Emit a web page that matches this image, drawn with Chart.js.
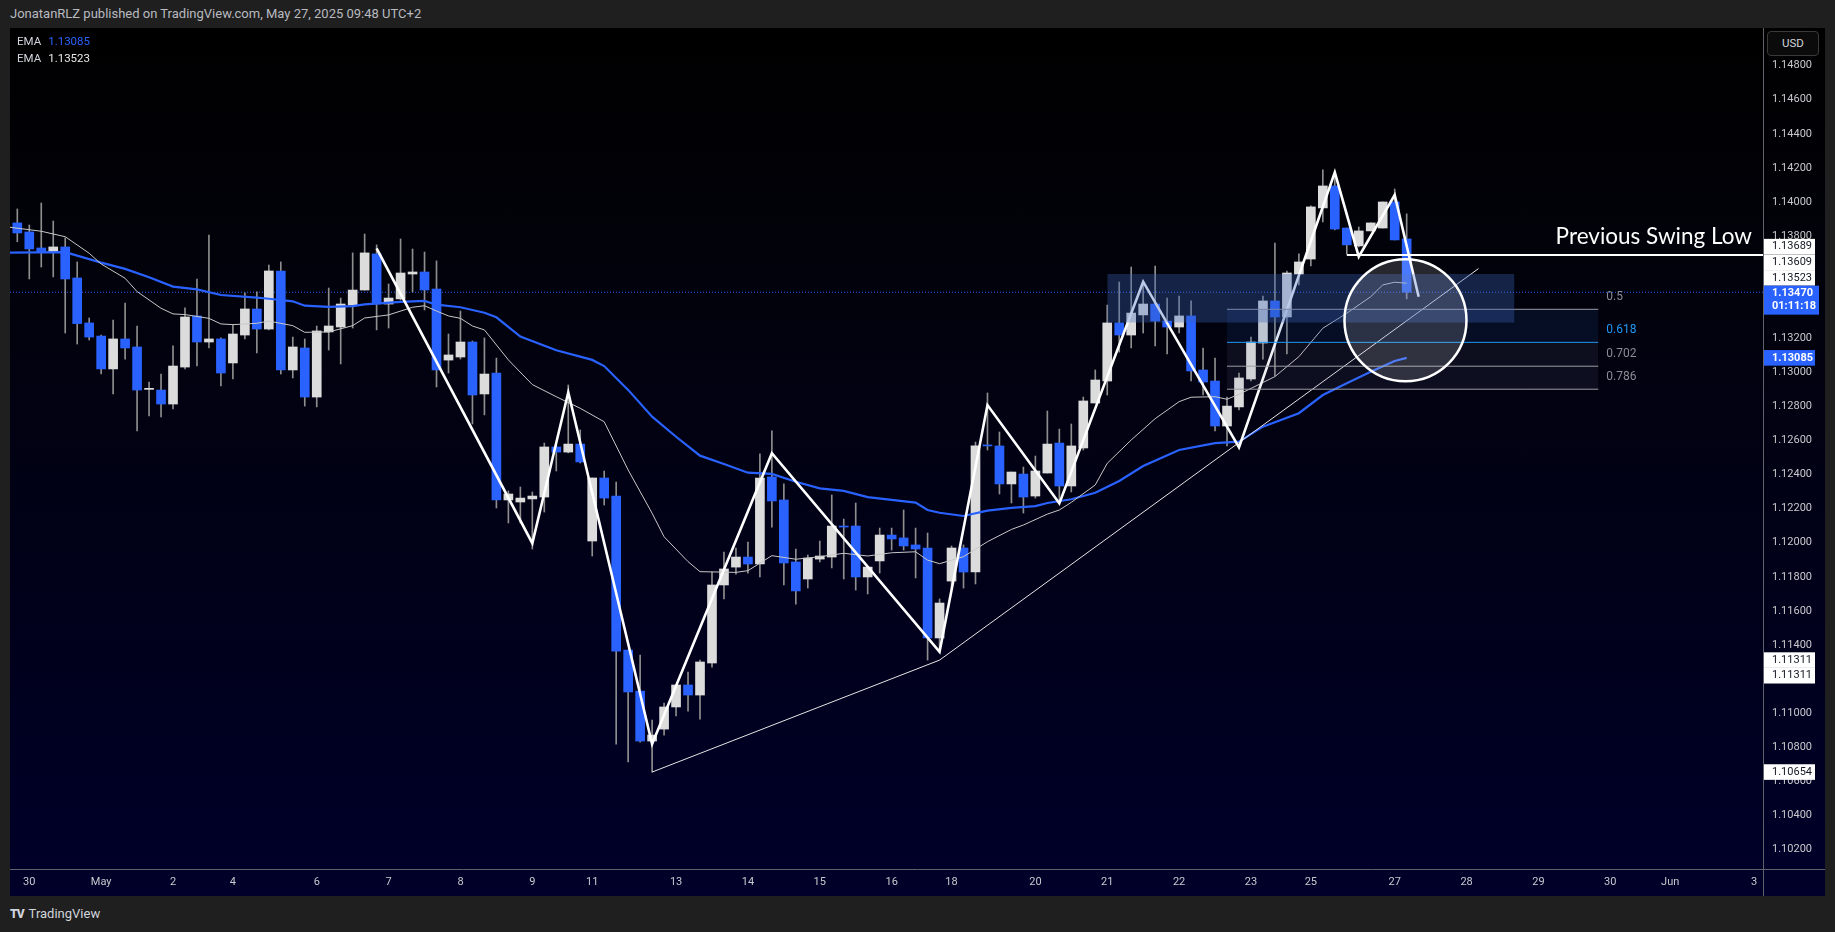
<!DOCTYPE html>
<html><head><meta charset="utf-8">
<script src="https://cdn.jsdelivr.net/npm/chart.js@4.4.1/dist/chart.umd.min.js"></script>
<style>
html,body{margin:0;padding:0;background:#1f1f1f;width:1835px;height:932px;overflow:hidden;font-family:Roboto,"Noto Sans",sans-serif;}
#hdr{position:absolute;left:10px;top:6px;font-size:13px;color:#b8bac0;white-space:nowrap;}
#panel{position:absolute;left:10px;top:28px;width:1815px;height:868px;background:linear-gradient(to bottom,#000000 0%,#02020c 30%,#00001e 75%,#00002a 100%);}
#cv{position:absolute;left:0;top:0;z-index:1;}
#legend{position:absolute;left:17px;top:33px;font-size:11.5px;color:#d1d4dc;line-height:17px;white-space:nowrap;z-index:2;}
#legend span.v{margin-left:7px;}
#usd{position:absolute;left:1767px;top:31px;width:52px;height:25px;border:1px solid #3a3a3a;border-radius:4px;background:#0b0b0b;color:#d1d4dc;font-size:11.5px;line-height:23px;text-align:center;box-sizing:border-box;z-index:2;}
#foot{position:absolute;left:10px;top:906px;font-size:13px;color:#d1d4dc;white-space:nowrap;}
#foot b{font-weight:900;letter-spacing:-1px;margin-right:5px;font-size:12px;}
</style></head>
<body>
<div id="hdr">JonatanRLZ published on TradingView.com, May 27, 2025 09:48 UTC+2</div>
<div id="panel"></div>
<div id="legend"></div>
<div id="usd">USD</div>
<div id="foot"><b>TV</b>TradingView</div>
<canvas id="cv" width="1835" height="932"></canvas>
<script>
// ---------- DATA (EUR/USD 4h) ----------
const opens = [1.13877,1.13824,1.13730,1.13706,1.13736,1.13554,1.13290,1.13213,1.13020,1.13196,
1.13149,1.12900,1.12896,1.12814,1.13031,1.13331,1.13178,1.13196,1.13055,1.13219,
1.13372,1.13254,1.13595,1.13014,1.13143,1.12855,1.13237,1.13266,1.13395,1.13483,
1.13695,1.13401,1.13431,1.13577,1.13589,1.13489,1.13072,1.13090,1.13178,1.12873,
1.12996,1.12251,1.12239,1.12257,1.12268,1.12562,1.12532,1.12579,1.12010,1.12380,
1.12274,1.11370,1.11129,1.10836,1.10906,1.11036,1.11165,1.11106,1.11294,1.11752,
1.11857,1.11916,1.11875,1.12386,1.12251,1.11887,1.11787,1.11904,1.11916,1.12098,
1.12098,1.11799,1.11893,1.12045,1.12028,1.11987,1.11969,1.11441,1.11775,1.11969,
1.11828,1.12574,1.12568,1.12345,1.12403,1.12274,1.12409,1.12585,1.12333,1.12556,
1.12820,1.12949,1.13290,1.13219,1.13337,1.13401,1.13301,1.13266,1.13331,1.13014,
1.12949,1.12685,1.12797,1.12961,1.13172,1.13419,1.13325,1.13577,1.13665,1.13965,
1.14094,1.13847,1.13742,1.13830,1.13847,1.14000,1.13783];
const highs = [1.13959,1.13865,1.13994,1.13888,1.13789,1.13648,1.13319,1.13219,1.13307,1.13407,
1.13272,1.12943,1.12990,1.13155,1.13378,1.13548,1.13806,1.13202,1.13278,1.13466,
1.13472,1.13630,1.13648,1.13207,1.13196,1.13272,1.13495,1.13436,1.13701,1.13812,
1.13748,1.13519,1.13783,1.13724,1.13706,1.13654,1.13225,1.13360,1.13184,1.13202,
1.13084,1.12304,1.12327,1.12298,1.12585,1.12574,1.12926,1.12662,1.12380,1.12421,
1.12356,1.11370,1.11341,1.10959,1.11059,1.11165,1.11241,1.11311,1.11828,1.11945,
1.11969,1.12004,1.12521,1.12656,1.12345,1.11963,1.11928,1.12010,1.12280,1.12139,
1.12233,1.11857,1.12086,1.12086,1.12192,1.12086,1.12057,1.11670,1.11981,1.11987,
1.12591,1.12879,1.12650,1.12415,1.12444,1.12509,1.12773,1.12667,1.12697,1.12855,
1.13014,1.13395,1.13530,1.13618,1.13530,1.13624,1.13436,1.13448,1.13419,1.13143,
1.13084,1.12855,1.12996,1.13207,1.13448,1.13759,1.13595,1.13695,1.13977,1.14188,
1.14176,1.13847,1.13853,1.13877,1.14000,1.14076,1.13930];
const lows = [1.13767,1.13548,1.13618,1.13560,1.13231,1.13166,1.13190,1.12990,1.12873,1.13078,
1.12656,1.12744,1.12738,1.12785,1.13020,1.13037,1.13143,1.12920,1.12961,1.13196,
1.13114,1.13249,1.12990,1.12967,1.12802,1.12797,1.13131,1.13049,1.13260,1.13483,
1.13249,1.13260,1.13425,1.13472,1.13366,1.12914,1.12996,1.13078,1.12697,1.12750,
1.12204,1.12116,1.12116,1.11963,1.12180,1.12421,1.12527,1.12468,1.11922,1.12221,
1.10818,1.10713,1.10830,1.10654,1.10871,1.10983,1.11012,1.10965,1.11270,1.11670,
1.11816,1.11822,1.11799,1.12092,1.11752,1.11640,1.11734,1.11887,1.11852,1.11787,
1.11722,1.11699,1.11822,1.11957,1.11957,1.11793,1.11311,1.11358,1.11728,1.11734,
1.11758,1.12544,1.12286,1.12233,1.12174,1.12262,1.12409,1.12251,1.12298,1.12544,
1.12820,1.12867,1.13119,1.13143,1.13231,1.13155,1.13108,1.13231,1.12949,1.12867,
1.12656,1.12568,1.12779,1.12949,1.13078,1.12979,1.13108,1.13513,1.13624,1.13883,
1.13836,1.13695,1.13736,1.13830,1.13847,1.13777,1.13431];
const closes = [1.13818,1.13724,1.13705,1.13736,1.13548,1.13286,1.13207,1.13020,1.13196,1.13143,
1.12896,1.12906,1.12814,1.13037,1.13325,1.13178,1.13196,1.12996,1.13225,1.13372,
1.13254,1.13595,1.13014,1.13149,1.12855,1.13243,1.13272,1.13401,1.13483,1.13701,
1.13401,1.13436,1.13583,1.13589,1.13483,1.13014,1.13102,1.13178,1.12867,1.12990,
1.12251,1.12286,1.12262,1.12274,1.12562,1.12532,1.12579,1.12474,1.12380,1.12262,
1.11364,1.11124,1.10836,1.10871,1.11036,1.11165,1.11106,1.11300,1.11752,1.11846,
1.11916,1.11875,1.12380,1.12245,1.11881,1.11717,1.11910,1.11922,1.12098,1.12092,
1.11799,1.11857,1.12045,1.12022,1.11981,1.11963,1.11441,1.11646,1.11969,1.11828,
1.12568,1.12568,1.12345,1.12415,1.12268,1.12421,1.12579,1.12333,1.12568,1.12832,
1.12955,1.13290,1.13219,1.13348,1.13401,1.13301,1.13266,1.13331,1.13008,1.12943,
1.12685,1.12802,1.12967,1.13178,1.13419,1.13325,1.13583,1.13648,1.13971,1.14094,
1.13841,1.13748,1.13830,1.13877,1.14000,1.13777,1.13470];

// time axis: candle index of each date label
const timeTickIdx = [1,7,13,18,25,31,37,43,48,55,61,67,73,78,85,91,97,103,108,115,121,127,133,138,145];
const timeTickLabels = ['30','May','2','4','6','7','8','9','11','13','14','15','16','18','20','21','22','23','25','27','28','29','30','Jun','3'];
const priceTicks = [1.102,1.104,1.106,1.108,1.110,1.112,1.114,1.116,1.118,1.120,1.122,1.124,1.126,1.128,1.130,1.132,1.134,1.136,1.138,1.140,1.142,1.144,1.146,1.148];
const hiddenPriceTicks = [1.112,1.134,1.136];

// EMA readings (fast, white) and (slow, blue)
const emaFastIdx = [-1,2,4,6,7,9,10,12,13,14,16,17,18,20,21,23,24,26,28,29,31,33,34,35,36,37,38,39,41,43,45,47,49,51,53,54,56,57,60,61,63,65,67,69,71,73,75,76,77,79,81,83,84,86,87,88,90,91,93,95,97,98,100,101,102,105,107,109,111,113,114,115,116];
const emaFastVal = [1.13855,1.13828,1.13796,1.13699,1.13636,1.13552,1.13474,1.13376,1.13343,1.13339,1.13317,1.13284,1.13280,1.13288,1.13301,1.13274,1.13235,1.13237,1.13274,1.13319,1.13337,1.13382,1.13391,1.13360,1.13331,1.13317,1.13272,1.13249,1.13073,1.12928,1.12857,1.12789,1.12710,1.12427,1.12173,1.12035,1.11889,1.11830,1.11826,1.11836,1.11924,1.11903,1.11918,1.11938,1.11922,1.11941,1.11947,1.11898,1.11877,1.11918,1.12006,1.12078,1.12104,1.12168,1.12192,1.12237,1.12339,1.12466,1.12603,1.12728,1.12828,1.12854,1.12857,1.12842,1.12871,1.12975,1.13092,1.13259,1.13347,1.13444,1.13513,1.13529,1.13523];
const emaSlowIdx = [-1,4,7,9,11,13,15,17,20,21,23,24,26,28,29,32,34,35,37,39,40,42,45,48,49,51,53,55,57,59,61,63,65,67,69,71,73,75,76,77,79,81,83,85,86,88,90,92,94,97,100,102,104,107,109,111,113,115,116];
const emaSlowVal = [1.13702,1.13705,1.13644,1.13607,1.13558,1.13503,1.13487,1.13454,1.13438,1.13432,1.13417,1.13391,1.13384,1.13389,1.13399,1.13413,1.13419,1.13397,1.13382,1.13350,1.13323,1.13210,1.13130,1.13073,1.13037,1.12897,1.12740,1.12622,1.12511,1.12462,1.12411,1.12404,1.12358,1.12319,1.12304,1.12268,1.12251,1.12235,1.12192,1.12176,1.12157,1.12188,1.12205,1.12215,1.12233,1.12255,1.12293,1.12362,1.12450,1.12544,1.12584,1.12593,1.12681,1.12760,1.12867,1.12936,1.13004,1.13067,1.13085];

// drawings
const zigzagIdx = [30,43,46,53,63,77,81,87,94,102,110,112,115,117];
const zigzagVal = [1.13728,1.11997,1.12883,1.10818,1.12525,1.11360,1.12808,1.12231,1.13532,1.12560,1.14174,1.13679,1.14041,1.13444];
const trend1Idx = [53,77], trend1Val = [1.10654,1.11311];
const trend2Idx = [77,122], trend2Val = [1.11311,1.13609];
const swingLowIdx = 111, swingLowVal = 1.13689;
const zoneIdx = [91,125], zoneVal = [1.13577,1.13292];
const fibIdx = [101,132];
const fibRatios = [0.5,0.618,0.702,0.786];
const fibVals = [1.13370,1.13176,1.13036,1.12901];
const circleIdx = 115.9, circleVal = 1.13306;
const lastPrice = closes[closes.length-1];
const xMin = -0.61, xMax = 145.75, yMin = 1.10085, yMax = 1.15021;

// ---------- build ----------
const WHITE = '#dcdcdc', BLUE = '#2962ff';
document.getElementById('legend').innerHTML =
  'EMA<span class="v" style="color:#2962ff">' + emaSlowVal[emaSlowVal.length-1].toFixed(5) + '</span><br>' +
  'EMA<span class="v" style="color:#e8e8e8">' + emaFastVal[emaFastVal.length-1].toFixed(5) + '</span>';

const bodies = opens.map((o,i)=>({x:i, y:[o, closes[i]]}));
const wicks = opens.map((o,i)=>({x:i, y:[lows[i], highs[i]]}));
const pts = (xs, ys) => xs.map((v,k)=>({x:v, y:ys[k]}));
const lineDs = (data, color, width, order, extra) => Object.assign({type:'line', data, borderColor:color, borderWidth:width, pointRadius:0, tension:0, fill:false, order}, extra||{});

const datasets = [
  lineDs([{x:xMin,y:lastPrice},{x:xMax,y:lastPrice}], BLUE, 1, 20, {borderDash:[1,2]}),
  {type:'bar', data:wicks, grouped:false, barThickness:1, backgroundColor:'#8e8e8e', borderWidth:0, order:15},
  {type:'bar', data:bodies, grouped:false, barThickness:9, minBarLength:1, borderWidth:0, order:14,
   backgroundColor: c => { const i=c.dataIndex; return closes[i] >= opens[i] ? WHITE : BLUE; }},
  lineDs(pts(emaSlowIdx, emaSlowVal), BLUE, 2.2, 13),
  lineDs(pts(emaFastIdx, emaFastVal), '#c8c8c8', 1, 12),
  lineDs(pts(trend1Idx, trend1Val), '#e6e6e6', 1, 11),
  lineDs(pts(trend2Idx, trend2Val), '#e6e6e6', 1, 11),
  lineDs(pts(zigzagIdx, zigzagVal), '#ffffff', 2.6, 10),
];
// fib bands
const bandColors = ['rgba(30,80,160,0.16)','rgba(120,130,170,0.10)','rgba(120,130,170,0.10)'];
for (let k=0;k<3;k++) datasets.push(lineDs(pts(fibIdx,[fibVals[k],fibVals[k]]), 'rgba(0,0,0,0)', 0, 8, {fill:{value:fibVals[k+1]}, backgroundColor:bandColors[k]}));
const fibLineColors = ['#9a9ca3','#2196f3','#9a9ca3','#9a9ca3'];
for (let k=0;k<4;k++) datasets.push(lineDs(pts(fibIdx,[fibVals[k],fibVals[k]]), fibLineColors[k], 1, 7));
// zone rectangle
datasets.push(lineDs(pts(zoneIdx,[zoneVal[0],zoneVal[0]]), 'rgba(0,0,0,0)', 0, 5, {fill:{value:zoneVal[1]}, backgroundColor:'rgba(60,100,185,0.34)'}));
// swing low line
datasets.push(lineDs([{x:swingLowIdx,y:swingLowVal},{x:xMax,y:swingLowVal}], '#ffffff', 2, 3));
// circle
datasets.push({type:'scatter', data:[{x:circleIdx,y:circleVal}], pointRadius:61, pointBackgroundColor:'rgba(255,255,255,0.15)', pointBorderColor:'#ffffff', pointBorderWidth:2.5, order:1, clip:false});

const priceTags = [
  {v:1.13689, lines:['1.13689'], bg:'#ffffff', fg:'#131722'},
  {v:1.13609, lines:['1.13609'], bg:'#ffffff', fg:'#131722'},
  {v:1.13523, lines:['1.13523'], bg:'#ffffff', fg:'#131722'},
  {v:lastPrice, lines:['1.13470','01:11:18'], bg:'#2962ff', fg:'#ffffff', anchor:true},
  {v:1.13085, lines:['1.13085'], bg:'#2962ff', fg:'#ffffff'},
  {v:1.11311, lines:['1.11311'], bg:'#ffffff', fg:'#131722'},
  {v:1.11311, lines:['1.11311'], bg:'#ffffff', fg:'#131722'},
  {v:1.10654, lines:['1.10654'], bg:'#ffffff', fg:'#131722'},
];

const overlay = {
  id:'overlay',
  afterDatasetsDraw(chart){
    const {ctx, scales:{x,y}, chartArea:a} = chart;
    ctx.save();
    ctx.font = '12px Roboto'; ctx.textBaseline='middle'; ctx.textAlign='left';
    fibRatios.forEach((r,k)=>{
      ctx.fillStyle = k===1 ? '#2196f3' : '#8a8d95';
      ctx.fillText(String(r), x.getPixelForValue(fibIdx[1]) + 8, y.getPixelForValue(fibVals[k]) - 12.5);
    });
    ctx.font = '22.5px Lato'; ctx.fillStyle='#ffffff'; ctx.textAlign='right'; ctx.textBaseline='alphabetic';
    ctx.fillText('Previous Swing Low', a.right - 11, y.getPixelForValue(swingLowVal) - 11);
    ctx.restore();
  },
  afterDraw(chart){
    const {ctx, scales:{y}, chartArea:a} = chart;
    ctx.save();
    ctx.strokeStyle = '#5f626b'; ctx.lineWidth = 1;
    ctx.beginPath(); ctx.moveTo(a.right+0.5, 28); ctx.lineTo(a.right+0.5, 896); ctx.stroke();
    ctx.beginPath(); ctx.moveTo(10, a.bottom+0.5); ctx.lineTo(1825, a.bottom+0.5); ctx.stroke();
    const H1 = 15.6, H2 = 29;
    const items = priceTags.map(t=>({...t, h: t.lines.length===2?H2:H1, c:y.getPixelForValue(t.v)}));
    const ai = items.findIndex(t=>t.anchor);
    items[ai].top = items[ai].c - 6.6;
    for (let k=ai-1;k>=0;k--) items[k].top = Math.min(items[k].c - items[k].h/2, items[k+1].top - items[k].h);
    for (let k=ai+1;k<items.length;k++) items[k].top = Math.max(items[k].c - items[k].h/2, items[k-1].top + items[k-1].h);
    items.forEach(t=>{
      ctx.fillStyle = t.bg;
      const w = t.lines.length===2 ? 55 : 51;
      ctx.fillRect(a.right+1, t.top, w, t.h);
      ctx.fillStyle = t.fg; ctx.textBaseline='middle'; ctx.textAlign='left';
      ctx.font = (t.bg==='#ffffff' ? '' : 'bold ') + '11px Roboto';
      t.lines.forEach((s,j)=> ctx.fillText(s, a.right+9, t.top + 7.8 + j*13));
    });
    ctx.restore();
  }
};

new Chart(document.getElementById('cv'), {
  type:'bar',
  data:{datasets},
  options:{
    responsive:false, animation:false, devicePixelRatio:1, events:[],
    layout:{autoPadding:false, padding:{left:10, top:28, right:10, bottom:36}},
    plugins:{legend:{display:false}, tooltip:{enabled:false}},
    scales:{
      x:{type:'linear', min:xMin, max:xMax, offset:false,
         grid:{display:false, drawTicks:false}, border:{display:false},
         afterBuildTicks:s=>{ s.ticks = timeTickIdx.map(v=>({value:v})); },
         afterFit:s=>{ s.height = 27; s.paddingLeft = 0; s.paddingRight = 0; },
         ticks:{autoSkip:false, maxRotation:0, padding:7, color:'#c8c9cc', font:{family:'Roboto', size:11},
                callback:v=>{ const k=timeTickIdx.indexOf(v); return k<0?'':timeTickLabels[k]; }}},
      y:{type:'linear', position:'right', min:yMin, max:yMax,
         grid:{display:false, drawTicks:false}, border:{display:false},
         afterBuildTicks:s=>{ s.ticks = priceTicks.map(v=>({value:v})); },
         afterFit:s=>{ s.width = 62; s.paddingTop = 0; s.paddingBottom = 0; },
         ticks:{padding:9, color:'#c8c9cc', font:{family:'Roboto', size:11},
                callback:v=> hiddenPriceTicks.some(h=>Math.abs(h-v)<1e-7) ? '' : Number(v).toFixed(5)}}
    }
  },
  plugins:[overlay]
});
</script>
</body></html>
